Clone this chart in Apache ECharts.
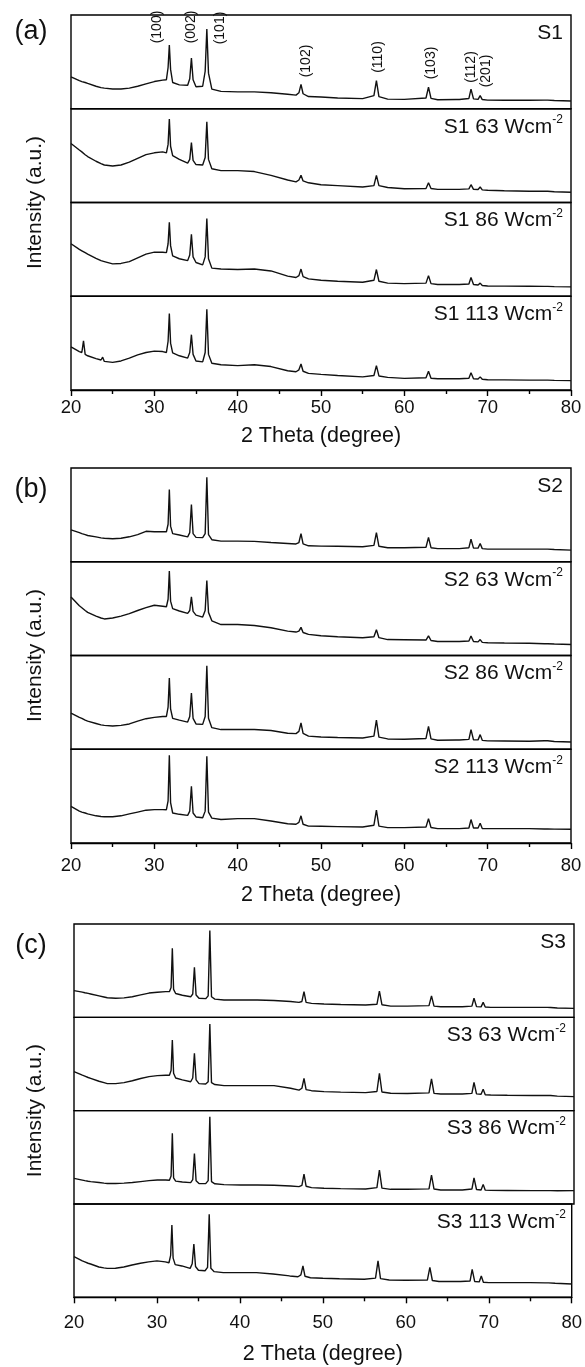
<!DOCTYPE html>
<html>
<head>
<meta charset="utf-8">
<script src="https://cdn.jsdelivr.net/npm/echarts@6/dist/echarts.min.js"></script>
<style>
html,body{margin:0;padding:0;background:#fff;}
#chart{width:585px;height:1367px;}
</style>
</head>
<body>
<div id="chart"></div>
<script>
// 2-theta positions (degree) shared by all patterns
const angles = [20,21,21.3,21.5,21.7,22,23,23.6,23.8,24,25,26,27,28,29,30,31,31.45,31.65,31.8,31.95,32.2,33,34,34.25,34.45,34.65,35,35.8,36.1,36.3,36.5,36.9,38,40,42,44,46,47,47.35,47.6,47.85,48.5,50,52,55,56.35,56.65,56.95,58,60,62.6,62.9,63.2,64,66.2,66.4,66.6,67.75,68.0,68.3,68.85,69.1,69.35,70,72,75,76.8,77.0,77.2,78,80];

// intensities (a.u., 0-100 within each stacked box)
const S1 = [34,30,29,28.5,28,27,24,22.5,22,22,21,21,22,24,26.5,29,30.5,31,44,68,42,28,25.5,25,32,54,31,23.5,24,40,85,38,21,18.5,18,18,17,15.5,14.5,17,26,16,13,12.5,11.5,10.8,14,30,13,10.3,10,11.5,23,11,9.6,9.8,11,9.8,11,21,10.5,10,14,9.8,9.2,9,9,9.2,9.8,9.2,8.8,8.2];
const S1_63 = [63,56,54,52.5,51,49,44,41.5,41,40,39,40,43,47,51,53,54,53,62,89,60,50,46,42,46,64,45,40.5,40,48,86,46,36,34,34,33,29,24,22,24,29,23,21,19,18,16.5,18,29,18,16,14.7,15,21,15,14,14,15,14,14.5,19,14,13.8,16.5,13.5,13,12.5,12,12,12.5,12,11.5,11];
const S1_86 = [56,50,48.5,47.5,46.5,45,40.5,38,37.5,37,34.5,35,37,41,45,47,47,46.5,56,79,54,43,40,38,44,66,42,36,33.5,42,83,40,30,29,28.5,29,27,21.5,20,22,29,21,18.5,17,16,15,17,28.5,16,14,13.5,14,22,13.5,12.5,12.5,13.5,12.5,13,20,12.5,12,14,11.5,11,10.8,10.7,10.5,11.2,10.5,10.3,10];
const S1_113 = [46,41,40,52.5,38,36.5,33.5,32,35,30.5,29.5,31,34,37.5,40,41.5,41,40,52,81.5,50,39.5,36.5,34,40,59,38,31,30,40,86,38,28.5,27,26,27,25,20.5,19.5,21.5,27.7,20,17.7,16.7,15.5,14,15.5,26,15,13.5,12.4,13,20,12.5,12,12,12.8,12,12.5,18.4,12,11.8,14,11.5,11,10.8,10.5,10.5,11.2,10.5,10.3,10];

const S2 = [34,31,30,29.5,29,28,26.5,25.5,25.5,25,24.5,25,26.6,29,32.5,32,32,32,40,77,38,30,28.5,26.6,31,61,30,26,25.7,30,90,29,23.5,22,22,21.7,20.5,19.5,19,20.5,30,19,17,16.7,16.5,16,17.5,31,16.5,15,14.9,15.5,26,15,14,14,14.8,14,15,24,14.5,14.5,19.5,14,13.5,13.5,13.5,13.5,14.2,13.5,13,12.4];
const S2_63 = [62.5,53,51,49.5,48,46,42,40,39.5,39,40,42,44.6,48,51,53.6,52.5,52,60,90,58,50,47.5,45,48,62.5,47,43,41,48,80,46,37,33,33,32,29.6,26,25,26,30,24.5,22.5,21,20,19,20,27.5,19,17,16.8,16.5,21,16,15,15,15.8,15,15.5,20.7,15,14.5,17,14,13.6,13.3,13,12.5,13,12.5,12.2,11.8];
const S2_86 = [38.6,34,33,32,31,30,27.5,26,26,25.5,24.8,25.5,27,30,32.6,34,35,35,45,76,43,33,31,29,35,60,33,27,26.5,35,89,33,23,21,21,21,20,17,16.7,19,28,17,14,13,12.5,12,14,31,13,11,10.6,11.5,24.5,11,9.6,9.8,10.8,9.8,10.5,21,10,10,15.6,9.5,8.9,8.8,8.6,9,10.5,9,8.3,7.8];
const S2_113 = [39,34,33,32.5,32,31,29,28.3,28.2,28,28,29,31,33,35,35.6,35.6,35.5,45,93.6,43,32,30.6,29.5,34,60.5,32,27.8,27,34,92.5,33,26.5,25,26,26,23.5,20.5,20,22,29,20,18,17.8,17.5,17,19,35,18,16.4,16.4,17,26,16.5,15.3,15.3,16.2,15.3,16,25,16,16,21,15.5,15.3,15.3,15.3,15,15.6,15,14.8,14.6];

const S3 = [28.6,27,26.3,26,25.6,25,23,21.8,21.5,21,20.4,20.8,22,24,26,26.8,27.5,27.5,32,74,30,25.5,23.6,22,25,53.6,24,20.4,20,23,93,22,19.5,18.6,18.6,18.6,18,17,16,17,27.5,16,15,14.3,13.8,13.2,14,28,13.5,12,12,12.5,23,12,11.4,11.4,12.2,11.4,12,20.4,11.5,11.2,16,11,10.7,10.7,10.7,10.7,11.4,10.5,10,9.6];
const S3_63 = [41.8,38,37,36.2,35.5,34.6,31.5,30,29.6,29,29,30,32,34.5,36.4,37.5,38,38,43,75.7,40,35,33,31,35,61.4,33,29,28.5,31,92.9,30,28,26.8,26.8,26.8,26.8,24,22,24,34.6,22.5,21.4,20.4,19.8,19.3,20.5,40,20,18.6,18.3,19,34,18.5,17.9,17.9,18.8,17.9,18.5,30.4,18,17.5,22.9,17,16.8,16.5,16.2,16.3,17.9,16.3,15.6,15];
const S3_86 = [27.5,25.6,25,24.7,24.4,24,23,22.3,22.2,22,22,22.3,23,24,25,25.7,25.7,25.5,30,75.8,28,24.5,23.5,22.9,26,54,25,22,21.8,25,93.5,24,21.6,20.7,20.4,20.4,20,19.2,18.6,20,32,19,17.5,16.8,16.4,16,17.5,36.4,17,15.7,15.7,16.2,31,16,15,15,16.8,15,16,28,15.5,15,21,14.8,14.6,14.5,14.3,14.3,16,14.3,14.2,14.3];
const S3_113 = [43.6,39,38,37.2,36.5,35.7,32.5,31.5,31.2,31,31.2,32.5,34.6,36.5,38,39,38,37,45,77.5,42,35,33.6,31,36,57,33,29,28.5,32,89,31,27.5,26.4,26.4,26.4,25,22.9,22,24,33.6,22.5,21,20.4,19.8,19.3,20.5,39,20,18.6,18.3,18.5,32,18,17,17,18.6,17,17.5,30,17,16.5,22.9,16.2,15.7,15.7,15.7,15.5,17,15.5,15,14.3];

const patterns = [S1, S1_63, S1_86, S1_113, S2, S2_63, S2_86, S2_113, S3, S3_63, S3_86, S3_113];
const sampleNames = ['S1','S1','S1','S1','S2','S2','S2','S2','S3','S3','S3','S3'];
const powers = ['', '63', '86', '113', '', '63', '86', '113', '', '63', '86', '113'];
const panelLabels = ['(a)', '(b)', '(c)'];
const hklNames = ['(100)','(002)','(101)','(102)','(110)','(103)','(112)','(201)'];
const hklAngles = [31.8, 34.45, 36.3, 47.6, 56.65, 62.9, 68.0, 69.1];
const xMin = 20, xMax = 80, xStep = 10;
const xTitle = '2 Theta (degree)';
const yTitle = 'Intensity (a.u.)';

// ---- layout / style ----
const FONT = 'Liberation Sans, Arial, Helvetica, sans-serif';
const panelTop = [15, 468, 924];
const panelBottom = [390, 843, 1297.3];
const panelLeft = [71, 71, 74];
const labelMargin = [8, 13, 16];
const titleGap = [35, 41, 46];
const panelLabelDy = [17, 22, 22];
const plotW = 500;
const hklDx = [-12, 0, 13, 5, 2, 3, 0, 6];
const hklY = [27, 27, 28, 61, 57, 63, 67, 71];

const chart = echarts.init(document.getElementById('chart'), null, {renderer: 'canvas'});
const grids = [], xAxes = [], yAxes = [], series = [];
for (let p = 0; p < 3; p++) {
  const h = (panelBottom[p] - panelTop[p]) / 4;
  for (let k = 0; k < 4; k++) {
    const i = p * 4 + k;
    grids.push({left: panelLeft[p], top: panelTop[p] + k * h, width: plotW, height: h,
      show: true, borderColor: '#000', borderWidth: 1.4, backgroundColor: 'rgba(0,0,0,0)'});
    const isBottom = k === 3;
    if (isBottom) {
      xAxes.push({gridIndex: i, type: 'value', min: xMin, max: xMax, interval: xStep,
        axisLine: {show: true, lineStyle: {color: '#000', width: 1.4}},
        axisTick: {show: true, inside: false, length: 6, lineStyle: {color: '#000', width: 1.4}},
        minorTick: {show: true, splitNumber: 2, length: 4, lineStyle: {color: '#000', width: 1.4}},
        axisLabel: {color: '#111', fontSize: 18.5, margin: labelMargin[p], fontFamily: FONT},
        splitLine: {show: false},
        name: xTitle, nameLocation: 'middle', nameGap: titleGap[p],
        nameTextStyle: {color: '#111', fontSize: 21.5, fontFamily: FONT}});
    } else {
      xAxes.push({gridIndex: i, type: 'value', min: xMin, max: xMax, interval: xStep, show: false});
    }
    yAxes.push({gridIndex: i, type: 'value', min: 0, max: 100, show: false});
    series.push({type: 'line', xAxisIndex: i, yAxisIndex: i, symbol: 'none', silent: true,
      data: angles.map((a, j) => [a, patterns[i][j]]),
      lineStyle: {color: '#111', width: 1.4}});
  }
}

chart.setOption({animation: false, backgroundColor: '#fff', grid: grids, xAxis: xAxes, yAxis: yAxes, series: series});

const graphics = [];
for (let p = 0; p < 3; p++) {
  graphics.push({type: 'text', x: 31, y: panelTop[p] + panelLabelDy[p], style: {text: panelLabels[p], fontSize: 27, fontFamily: FONT, fill: '#111', align: 'center', verticalAlign: 'middle'}});
  graphics.push({type: 'text', x: 35, y: (panelTop[p] + panelBottom[p]) / 2, rotation: Math.PI / 2,
    style: {text: yTitle, fontSize: 21, fontFamily: FONT, fill: '#111', align: 'center', verticalAlign: 'middle'}});
  const h = (panelBottom[p] - panelTop[p]) / 4;
  for (let k = 0; k < 4; k++) {
    const i = p * 4 + k;
    const txt = powers[i] ? '{m|' + sampleNames[i] + ' ' + powers[i] + ' Wcm}{s|-2}' : '{m|' + sampleNames[i] + '}';
    graphics.push({type: 'text', x: panelLeft[p] + plotW - 8, y: panelTop[p] + k * h + 18,
      style: {text: txt, align: 'right', verticalAlign: 'middle', fill: '#111',
        rich: {m: {fontSize: 21, fontFamily: FONT, lineHeight: 26, fill: '#111'},
               s: {fontSize: 12, fontFamily: FONT, verticalAlign: 'top', lineHeight: 12, fill: '#111'}}}});
  }
}
for (let n = 0; n < hklNames.length; n++) {
  const px = chart.convertToPixel({gridIndex: 0}, [hklAngles[n], 0]);
  graphics.push({type: 'text', x: px[0] + hklDx[n], y: hklY[n], rotation: Math.PI / 2,
    style: {text: hklNames[n], fontSize: 14, fontFamily: FONT, fill: '#111', align: 'center', verticalAlign: 'middle'}});
}
chart.setOption({graphic: graphics});
</script>
</body>
</html>
